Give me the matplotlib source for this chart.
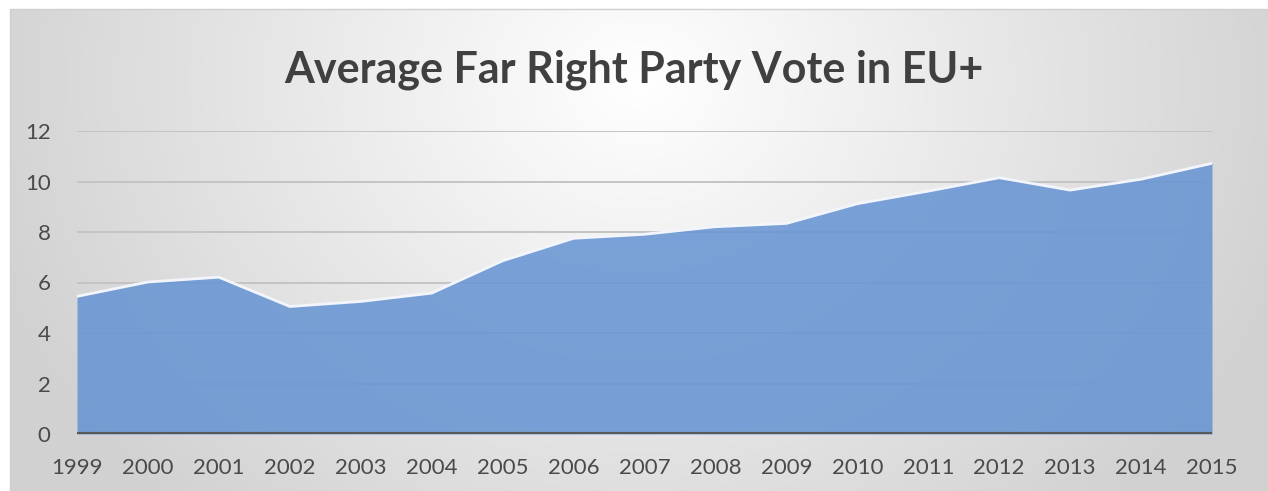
import numpy as np
import matplotlib
matplotlib.use("Agg")
import matplotlib.pyplot as plt
from matplotlib.patches import Rectangle

years = [1999, 2000, 2001, 2002, 2003, 2004, 2005, 2006, 2007, 2008,
         2009, 2010, 2011, 2012, 2013, 2014, 2015]
votes = [5.45, 6.02, 6.21, 5.05, 5.25, 5.58, 6.86, 7.75, 7.91, 8.21,
         8.34, 9.12, 9.62, 10.15, 9.66, 10.09, 10.72]
yticks = [0, 2, 4, 6, 8, 10, 12]
title = "Average Far Right Party Vote in EU+"

W, H = 1268, 491
fig = plt.figure(figsize=(W / 100, H / 100), dpi=100)
fig.patch.set_facecolor("white")

# background chart area with radial gradient
bg = fig.add_axes([0, 0, 1, 1], zorder=0)
bg.set_xlim(0, W)
bg.set_ylim(H, 0)
bg.axis("off")
x0, y0 = 10, 9
gx = np.linspace(0, 1, 400)
gy = np.linspace(0, 1, 200)
GX, GY = np.meshgrid(gx, gy)
d = np.sqrt(((GX - 0.5) * 1.0) ** 2 + ((GY - 0.15) * 0.45) ** 2)
d = np.clip(d / 0.55, 0, 1)
c_in = np.array([1.0, 1.0, 1.0])
c_out = np.array([0.82, 0.82, 0.82])
img = c_in[None, None, :] * (1 - d[..., None]) + c_out[None, None, :] * d[..., None]
bg.imshow(img, extent=[x0, W, H, y0], aspect="auto", interpolation="bilinear", zorder=0)
bg.add_patch(Rectangle((x0, y0), W - x0 + 5, H - y0 + 5, fill=False,
                       edgecolor="#d0d0d0", lw=1.0, zorder=1))

# main axes
left, right = 77 / W, 1212 / W
bottom, top = 1 - 434 / H, 1 - 131 / H
ax = fig.add_axes([left, bottom, right - left, top - bottom], zorder=2)
ax.set_facecolor("none")
ax.set_xlim(years[0], years[-1])
ax.set_ylim(0, 12)

for yv in yticks[1:]:
    ax.axhline(yv, color="#c4c4c4", lw=1.4, zorder=1)

ax.fill_between(years, votes, 0, color="#6895d3", alpha=0.87, lw=0, zorder=2)
ax.plot(years, votes, color="#f2f5fb", lw=2.0, zorder=3, solid_joinstyle="miter")
ax.axhline(0, color="#595959", lw=3.0, zorder=4)

for s in ax.spines.values():
    s.set_visible(False)
ax.set_yticks(yticks)
ax.set_xticks(years)
ax.set_xticklabels([str(y) for y in years])
ax.tick_params(length=0, labelsize=16)
ax.tick_params(axis="x", pad=17)
ax.tick_params(axis="y", pad=19)
for lab in ax.get_xticklabels() + ax.get_yticklabels():
    lab.set_family("Lato")
    lab.set_color("#4a4a4a")

fig.text(0.5, 1 - 83 / H, title, ha="center", va="baseline", fontsize=31,
         fontweight="bold", family="Lato", color="#404040")

fig.savefig("out.png", dpi=100)
